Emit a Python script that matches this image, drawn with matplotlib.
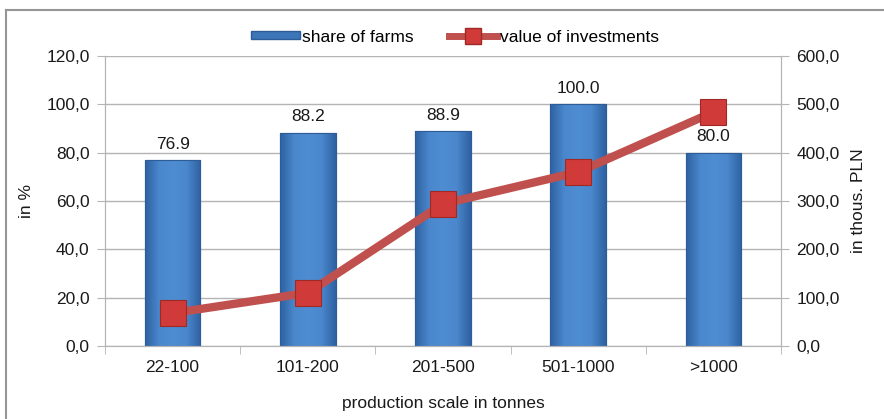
import numpy as np
import matplotlib
matplotlib.use("Agg")
import matplotlib.pyplot as plt
from matplotlib.lines import Line2D
from matplotlib.patches import Patch
from matplotlib.colors import LinearSegmentedColormap

plt.rcParams["font.family"] = ["Liberation Sans", "DejaVu Sans"]
plt.rcParams["font.size"] = 12.5

categories = ["22-100", "101-200", "201-500", "501-1000", ">1000"]
share_of_farms = [76.9, 88.2, 88.9, 100.0, 80.0]
value_of_investments = [68, 110, 294, 360, 484]
left_ticks = [0, 20, 40, 60, 80, 100, 120]
right_ticks = [0, 100, 200, 300, 400, 500, 600]

grid_color = "#b4b4b4"
text_color = "#1a1a1a"
line_color = "#c0504d"
fs = 12.5

fig = plt.figure(figsize=(8.84, 4.19), dpi=100)
ax = fig.add_axes([105 / 884, 1 - 346 / 419, 676 / 884, 290 / 419])
ax2 = ax.twinx()

x = np.arange(len(categories))
width = 0.41

# bars with a soft horizontal shading, like the Office chart style
bars = ax.bar(x, share_of_farms, width, color="#3c76b9", edgecolor="#2e5c96",
              linewidth=0.8, zorder=2)
shade = LinearSegmentedColormap.from_list(
    "shade", ["#2f62a3", "#4a87cc", "#4f8dd2", "#4a87cc", "#2f62a3"])
grad = np.linspace(0, 1, 64).reshape(1, -1)
for bar in bars:
    bx, by = bar.get_x(), bar.get_y()
    bw, bh = bar.get_width(), bar.get_height()
    img = ax.imshow(grad, cmap=shade, aspect="auto",
                    extent=[bx, bx + bw, by, by + bh], zorder=2.1)
    img.set_clip_path(bar)
    ax.bar(bx + bw / 2, bh, bw, fill=False, edgecolor="#2e5c96",
           linewidth=0.8, zorder=2.2)

for xi, v in zip(x, share_of_farms):
    ax.text(xi, v + 3.5, f"{v:.1f}", ha="center", va="bottom",
            fontsize=fs, color=text_color, zorder=5)

ax2.plot(x, value_of_investments, color=line_color, linewidth=6,
         marker="s", markersize=19, markerfacecolor="#d03a38",
         markeredgecolor="#a02825", markeredgewidth=0.8, zorder=3,
         solid_capstyle="butt")

ax.set_xlim(-0.5, len(categories) - 0.5)
ax.set_ylim(0, 120)
ax2.set_ylim(0, 600)
ax.set_yticks(left_ticks)
ax.set_yticklabels([f"{t},0" for t in left_ticks])
ax2.set_yticks(right_ticks)
ax2.set_yticklabels([f"{t},0" for t in right_ticks])

ax.set_xticks(x)
ax.set_xticklabels(categories)
ax.set_xticks(np.arange(len(categories) + 1) - 0.5, minor=True)
ax.tick_params(axis="x", which="major", length=0, pad=10, labelsize=fs,
               colors=text_color)
ax.tick_params(axis="x", which="minor", length=6, color=grid_color,
               direction="out")
ax.tick_params(axis="y", length=6, color=grid_color, labelsize=fs,
               colors=text_color, pad=5)
ax2.tick_params(axis="y", length=6, color=grid_color, labelsize=fs,
                colors=text_color, pad=5)
for t in ax.get_xticklabels() + ax.get_yticklabels() + ax2.get_yticklabels():
    t.set_color(text_color)

ax.yaxis.grid(True, color=grid_color, linewidth=1)
ax.set_axisbelow(True)
for a in (ax, ax2):
    a.spines["top"].set_visible(False)
    for s in ("left", "right", "bottom"):
        a.spines[s].set_color(grid_color)
ax.set_zorder(ax2.get_zorder() - 1)
ax2.patch.set_visible(False)
ax.patch.set_visible(False)

ax.set_ylabel("in %", fontsize=fs, color=text_color, labelpad=9)
ax2.set_ylabel("in thous. PLN", fontsize=fs, color=text_color, labelpad=8)
ax.set_xlabel("production scale in tonnes", fontsize=fs, color=text_color,
              labelpad=15)

handles = [
    Patch(facecolor="#3c76b9", edgecolor="#2e5c96"),
    Line2D([], [], color=line_color, linewidth=5, marker="s", markersize=12,
           markerfacecolor="#d03a38", markeredgecolor="#a02825"),
]
fig.legend(handles, ["share of farms", "value of investments"],
           loc="center", bbox_to_anchor=(455 / 884, 1 - 37 / 419), ncol=2,
           frameon=False, fontsize=fs, handlelength=2.8, handletextpad=0.15,
           columnspacing=2.0, handleheight=0.35)

# outer chart border (left and top edges)
fig.add_artist(Line2D([6 / 884, 6 / 884], [0, 1 - 10 / 419],
                      transform=fig.transFigure, color="#969696", linewidth=1.5))
fig.add_artist(Line2D([6 / 884, 1], [1 - 10 / 419, 1 - 10 / 419],
                      transform=fig.transFigure, color="#969696", linewidth=1.5))

fig.savefig("out.png", dpi=100)
